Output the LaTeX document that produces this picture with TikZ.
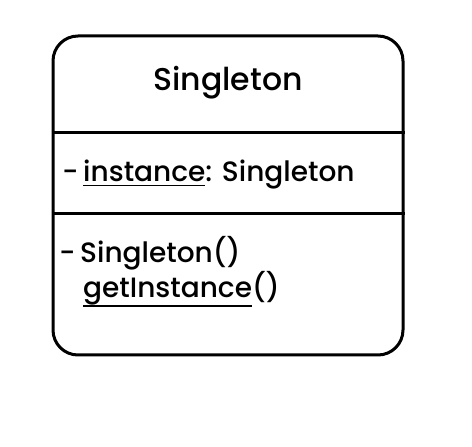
\documentclass[tikz,border=0pt]{standalone}
\usepackage{fontspec}
\setmainfont{Poppins}[UprightFont={* Medium}]
\newcommand\myul[2]{\setbox0=\hbox{#2}\rlap{\rule[-#1]{\wd0}{1.8pt}}\box0}
\tikzset{
  umlbox/.style={draw=black, line width=3pt, rounded corners=25pt, minimum width=350pt, minimum height=319pt, inner sep=0pt},
  divider/.style={draw=black, line width=3pt},
  titletext/.style={inner sep=0pt, anchor=base, font=\fontsize{31.5}{36}\selectfont},
  membertext/.style={inner sep=0pt, anchor=base west, font=\fontsize{28}{32}\selectfont},
}
\begin{document}
\begin{tikzpicture}[x=1pt,y=1pt]
\useasboundingbox (0,0) rectangle (472,447);
\node[umlbox] (box) at (228,251.5) {};
\coordinate (d1) at (0,314);
\coordinate (d2) at (0,233);
\draw[divider] (box.west |- d1) -- (box.east |- d1);
\draw[divider] (box.west |- d2) -- (box.east |- d2);
\node[titletext] (title) at (228,356) {Singleton};
\node[membertext] (attr) at (62,265) {-\,\myul{4.5pt}{instance}: Singleton};
\node[membertext] (m1) at (59,184) {-\,Singleton()};
\node[membertext] (m2) at (83,149) {\myul{9pt}{getInstance}()};
\end{tikzpicture}
\end{document}
